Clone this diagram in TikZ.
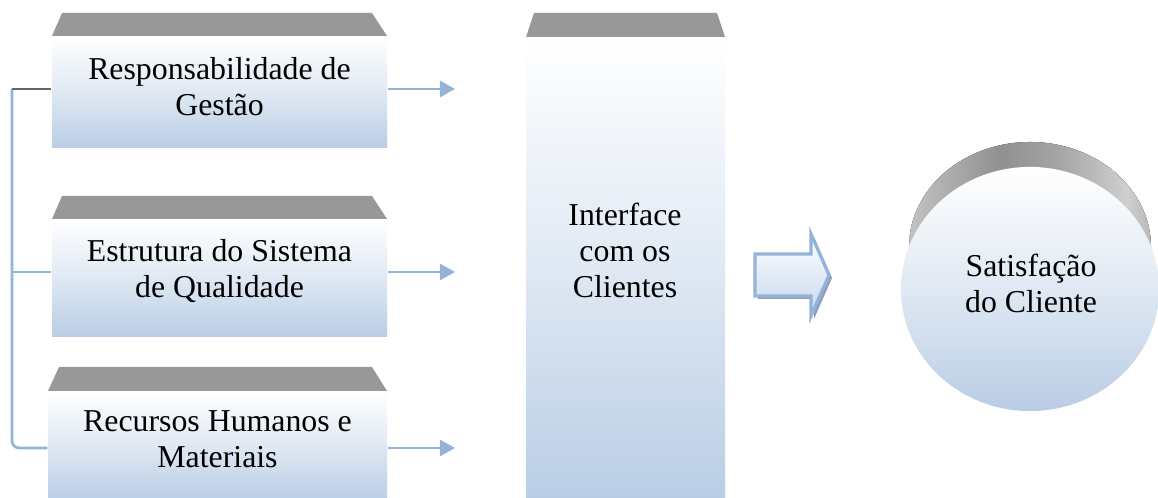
\documentclass[tikz,border=0pt]{standalone}
\usepackage{fontspec}
\setmainfont{Liberation Serif}
\usetikzlibrary{arrows.meta,fit,shapes.geometric}
\definecolor{boxblue}{RGB}{185,205,229}
\definecolor{lineblue}{RGB}{149,179,215}
\definecolor{capgray}{RGB}{152,152,152}
\definecolor{bargray}{RGB}{100,100,100}
\definecolor{shadowblue}{RGB}{140,160,188}
\definecolor{arrowblue}{RGB}{198,215,238}
\definecolor{ga}{RGB}{192,192,192}
\definecolor{gb}{RGB}{144,144,144}
\definecolor{gc}{RGB}{165,165,165}
\definecolor{gd}{RGB}{207,207,207}
\definecolor{ge}{RGB}{184,184,184}
\pgfdeclarehorizontalshading{grayarc}{100bp}{color(0bp)=(ga); color(26bp)=(ga); color(44bp)=(gb); color(56bp)=(gc); color(70bp)=(gd); color(75bp)=(ge); color(100bp)=(ge)}
\begin{document}
\begin{tikzpicture}[x=0.01cm, y=-0.01cm,
  boxbody/.style={inner sep=0, draw=none, top color=white, bottom color=boxblue, middle color=boxblue!45!white},
  txt/.style={align=center, inner sep=0, font=\fontsize{9.05}{10.24}\selectfont},
  capfill/.style={fill=capgray},
  conn/.style={draw=lineblue, line width=0.75pt},
  arrowline/.style={conn, -{Triangle[length=4.3pt, width=4.6pt]}}
]
\fill[white] (0,0) rectangle (1158,498);
\useasboundingbox (0,0) rectangle (1158,498);

% left boxes
\node[fit={(52,36)(387,148)}, boxbody] (b1) {};
\node[fit={(52,219)(387,337)}, boxbody] (b2) {};
\node[fit={(48,391)(387,500)}, boxbody] (b3) {};
\fill[capfill] (52,36) -- (62,13) -- (372,13) -- (387,36) -- cycle;
\fill[capfill] (52,219) -- (62,196) -- (372,196) -- (387,219) -- cycle;
\fill[capfill] (48,391) -- (59,367) -- (372,367) -- (387,391) -- cycle;
\node[txt] (t1) at (219.5,86.7) {Responsabilidade de\\Gestão};
\node[txt] (t2) at (219.5,271) {Estrutura do Sistema\\de Qualidade};
\node[txt] (t3) at (217.5,439.5) {Recursos Humanos e\\Materiais};

% bracket
\coordinate (L1) at (12,89);
\coordinate (L2) at (12,272);
\coordinate (L3) at (12,448);
\draw[conn, rounded corners=2pt] (L1) -- (L3) -- (b3.west |- L3);
\draw[conn] (L2) -- (b2.west |- L2);
\draw[draw=bargray, line width=0.75pt] (L1) -- (b1.west |- L1);

% arrows to interface column
\coordinate (a1) at (455,89);
\coordinate (a2) at (455,272);
\coordinate (a3) at (455,448);
\draw[arrowline] (b1.east |- a1) -- (a1);
\draw[arrowline] (b2.east |- a2) -- (a2);
\draw[arrowline] (b3.east |- a3) -- (a3);

% interface column
\node[fit={(526,37)(725,500)}, boxbody] (col) {};
\fill[capfill] (526,37) -- (534,13) -- (717,13) -- (725,37) -- cycle;
\node[txt] (tc) at (625,250.7) {Interface\\com os\\Clientes};

% block arrow
\fill[shadowblue] (758,257) -- (814,257) -- (814,237) -- (832,278) -- (814,319) -- (814,299) -- (758,299) -- cycle;
\draw[draw=lineblue, line width=0.9pt, top color=white, bottom color=arrowblue]
  (755,254) -- (811,254) -- (811,234) -- (829,275) -- (811,316) -- (811,296) -- (755,296) -- cycle;

% satisfaction circle
\fill[shading=grayarc] (1030,247) ellipse [x radius=121, y radius=105];
\node[ellipse, minimum width=2.58cm, minimum height=2.44cm, boxbody] (sat) at (1030,289) {};
\node[txt] (ts) at (1031,283.6) {Satisfação\\do Cliente};
\end{tikzpicture}
\end{document}
